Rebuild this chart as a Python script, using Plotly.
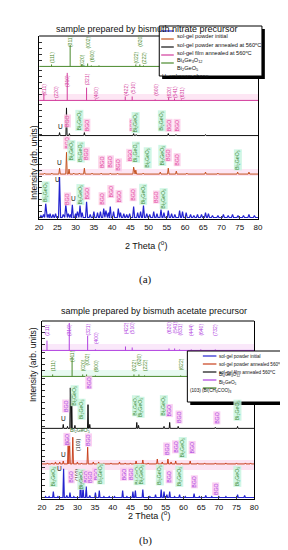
import plotly.graph_objects as go

W, H = 288, 550
FONT = "Liberation Sans, Arial, sans-serif"

# ---------------- DATA (a) : bismuth nitrate precursor ----------------
# peaks: (2theta, intensity in arb. units)
a_blue_peaks = [
    (20.5, 2), (21.2, 3), (21.8, 14), (22.5, 3), (23.0, 4), (23.8, 3), (24.5, 4),
    (25.6, 41), (26.6, 3), (27.3, 13), (28.0, 4), (28.6, 3), (29.1, 13), (30.0, 4),
    (30.5, 6), (31.2, 12), (31.8, 5), (33.0, 16), (34.0, 3), (35.0, 6), (36.0, 5),
    (36.8, 6), (37.7, 9), (38.3, 7), (39.0, 5), (39.5, 11), (40.4, 6), (41.7, 9),
    (42.3, 5), (43.2, 4), (44.0, 3), (44.8, 4), (45.9, 11), (47.0, 5), (47.8, 6),
    (48.6, 12), (49.5, 4), (50.3, 3), (51.4, 6), (52.3, 4), (53.4, 8), (54.2, 5),
    (55.4, 7), (56.3, 4), (57.2, 3), (58.5, 7), (59.3, 6), (60.3, 5), (61.5, 3),
    (62.4, 2), (63.4, 3), (64.5, 3), (65.6, 5), (66.4, 4), (67.5, 2), (69.0, 2),
    (70.5, 3), (71.8, 2), (73.0, 3), (74.5, 2), (76.0, 2), (77.5, 3), (79.0, 2),
]
a_red_peaks = [
    (21.5, 1), (23.5, 1), (25.6, 6), (27.5, 22), (28.2, 5), (29.5, 1), (31.0, 1),
    (32.4, 6), (34.5, 1), (37.0, 1), (39.5, 1), (41.5, 1), (45.9, 7), (46.5, 4),
    (48.5, 1), (53.2, 2), (55.4, 6), (57.6, 3), (60.5, 1), (65.6, 2), (69.0, 1),
    (74.4, 2), (77.5, 2),
]
a_black_peaks = [
    (25.6, 3), (27.5, 28), (28.3, 2), (32.4, 3), (45.9, 2), (46.6, 1), (55.4, 2),
    (57.5, 1), (65.6, 1),
]
a_bgo_pos = [21.3, 24.5, 27.7, 33.0, 35.4, 43.6, 45.5, 51.8, 55.5, 57.1, 59.0]
a_bgo_int = [8, 1, 28, 13, 1, 4, 4, 1, 3, 2, 1]
a_bgo_hkl = ["(211)", "(220)", "(310)", "(321)", "(400)", "(422)", "(510)",
             "(600)", "(620)", "(541)", "(631)"]
a_bgo_lbl = [11, 8, 20, 21, 8, 11, 13, 11, 8, 8, 8]
a_b2g_pos = [23.4, 28.5, 31.7, 33.3, 34.3, 36.4, 46.5, 47.6, 48.6]
a_b2g_int = [2, 22, 2, 3, 1, 1, 2, 2, 1]
a_b2g_hkl = ["(111)", "(311)", "(020)", "(002)", "(600)", "", "(022)", "(620)", "(222)"]
a_b2g_lbl = [9, 26, 6, 24, 11, 0, 9, 26, 9]

# phase labels (2theta, level, phase) ; phase: B = BGO, G = Bi2GeO5, U = unknown
a_labels = [
    (25.8, 92, "U"), (27.7, 98, "B"), (31.1, 98, "G"), (33.0, 93, "B"), (45.5, 94, "B"),
    (46.5, 96, "G"), (53.7, 98, "G"), (55.5, 93, "B"), (57.7, 93, "B"),
    (25.6, 56, "U"), (27.7, 76, "B"), (28.8, 68, "G"), (31.4, 66, "G"), (33.0, 64, "B"),
    (37.2, 56, "B"), (39.6, 56, "B"), (41.8, 53, "B"), (44.9, 63, "B"), (46.5, 66, "G"),
    (49.7, 61, "G"), (53.7, 63, "G"), (55.5, 63, "B"), (57.9, 59, "B"), (74.4, 58, "G"),
    (21.9, 26, "G"), (25.0, 39, "U"), (27.7, 19, "B"), (29.3, 19, "U"), (31.4, 23, "G"),
    (33.0, 24, "B"), (37.2, 19, "B"), (39.6, 26, "B"), (41.8, 21, "B"), (45.7, 23, "B"),
    (48.6, 24, "G"), (52.1, 21, "B"), (54.2, 19, "G"),
]

# ---------------- DATA (b) : bismuth acetate precursor ----------------
b_blue_peaks = [
    (21.0, 1), (22.0, 1), (23.2, 6), (24.5, 1), (26.1, 29), (27.0, 2), (27.9, 5),
    (29.0, 1), (30.9, 24), (31.6, 11), (32.5, 11), (33.5, 2), (35.1, 5), (36.2, 7),
    (37.5, 1), (39.0, 1), (40.5, 1), (42.8, 7), (44.0, 1), (45.7, 6), (46.4, 7),
    (48.5, 8), (50.5, 1), (52.1, 3), (53.7, 8), (54.5, 6), (55.3, 3), (56.1, 6),
    (57.5, 1), (58.9, 3), (60.5, 1), (63.0, 4), (64.5, 1), (66.3, 2), (68.0, 1),
    (70.0, 1), (72.0, 1), (75.3, 3), (77.3, 2),
]
b_red_peaks = [
    (21.5, 1), (22.8, 1), (23.8, 2), (25.0, 2), (26.0, 3), (27.4, 25), (27.8, 22),
    (28.7, 27), (30.0, 2), (31.2, 1), (32.9, 17), (34.5, 2), (36.0, 2), (37.5, 1),
    (39.5, 1), (41.9, 2), (43.5, 1), (45.0, 1), (46.6, 3), (48.5, 4), (50.0, 1),
    (52.6, 5), (54.0, 2), (55.6, 5), (56.5, 2), (57.8, 3), (59.5, 1), (61.9, 3),
    (64.0, 1), (66.0, 1), (69.0, 1), (72.0, 1), (75.0, 1), (77.5, 1), (79.0, 1),
]
b_black_peaks = [
    (26.0, 4), (27.2, 2), (28.0, 41), (28.4, 35), (29.3, 3), (33.0, 24), (33.5, 4),
    (46.8, 6), (47.3, 3), (54.5, 2), (56.1, 6), (58.5, 2), (69.0, 1), (75.3, 2),
]
b_bgo_pos = [21.4, 27.7, 32.9, 35.1, 43.6, 45.5, 55.9, 57.5, 58.9, 62.2, 64.9, 69.0]
b_bgo_int = [10, 28, 15, 1, 4, 3, 2, 2, 1, 1, 1, 1]
b_bgo_hkl = ["(211)", "(310)", "(321)", "(400)", "(422)", "(510)", "(620)", "(541)",
             "(631)", "(444)", "(640)", "(732)"]
b_bgo_lbl = [21, 21, 21, 13, 23, 23, 23, 23, 21, 21, 21, 21]
b_b2g_pos = [23.0, 28.5, 31.5, 32.6, 35.1, 46.0, 47.4, 49.0, 59.2]
b_b2g_int = [2, 20, 2, 2, 1, 2, 2, 1, 1]
b_b2g_hkl = ["(111)", "(311)", "(020)", "(002)", "(600)", "(022)", "(620)", "(222)", "(622)"]
b_b2g_lbl = [11, 21, 11, 17, 11, 11, 17, 11, 12]

b_labels = [
    (26.6, 93, "B"), (29.3, 103, "G"), (31.2, 89, "G"), (33.2, 116, "B"), (26.0, 80, "U"),
    (46.6, 93, "G"), (47.9, 91, "G"), (54.5, 93, "G"), (55.9, 88, "B"), (58.6, 81, "B"),
    (69.3, 81, "B"), (75.3, 88, "G"),
    (26.0, 44, "U"), (27.1, 59, "B"), (30.1, 53, "A"), (33.2, 58, "B"), (55.3, 49, "B"),
    (57.8, 51, "B"), (59.7, 51, "G"), (62.5, 51, "B"),
    (23.3, 21, "G"), (24.9, 29, "U"), (28.2, 21, "B"), (29.9, 23, "A"), (31.2, 18, "G"),
    (32.4, 21, "B"), (33.6, 21, "B"), (35.1, 24, "B"), (36.7, 24, "G"), (43.0, 24, "B"),
    (45.2, 24, "B"), (47.1, 23, "G"), (48.2, 23, "G"), (53.4, 23, "G"), (55.9, 21, "B"),
    (58.9, 21, "G"), (63.0, 16, "B"), (69.0, 9, "B"), (75.3, 21, "G"),
]
b_horiz_label = (30.7, 68, "Bi<sub>2</sub>GeO<sub>5</sub>")

XTICKS = [20, 25, 30, 35, 40, 45, 50, 55, 60, 65, 70, 75, 80]

# ---------------- styles ----------------
C_BLUE = "#2323cf"
C_RED_A = "#c4521f"
C_RED_B = "#c8401c"
C_BLACK = "#111111"
C_PINK = "#d23c9c"
C_PURPLE = "#b040e0"
C_GREEN = "#4a8a2c"


def px(x):
    return x / W


def py(y):
    return 1 - y / H


def spectrum(peaks, base, w):
    xs, ys = [20], [base]
    for p, h in sorted(peaks):
        xs += [p - w, p, p + w]
        ys += [base, base + h, base]
    xs.append(80)
    ys.append(base)
    return xs, ys


def sticks(pos, inten):
    xs, ys = [20, 80], [0, 0]
    for p, h in zip(pos, inten):
        xs += [None, p, p]
        ys += [None, 0, h]
    return xs, ys


fig = go.Figure()
annots = []
shapes = []


def add_line(xs, ys, color, xa, ya, width=1.0):
    fig.add_trace(go.Scatter(x=xs, y=ys, mode="lines", xaxis=xa, yaxis=ya,
                             line=dict(color=color, width=width), hoverinfo="skip",
                             showlegend=False))


# faint highlight bands seen in the reference scan
for (x0, x1, y0, y1, c) in [(28, 254, 86, 93, "rgba(250,200,230,0.45)"),
                            (28, 254, 161, 168, "rgba(250,200,230,0.45)"),
                            (31, 250, 452, 462, "rgba(250,200,230,0.5)"),
                            (31, 250, 336, 343, "rgba(245,205,245,0.45)"),
                            (31, 250, 362, 369, "rgba(205,245,225,0.45)")]:
    shapes.append(dict(type="rect", xref="paper", yref="paper", x0=px(x0), x1=px(x1),
                       y0=py(y1), y1=py(y0), fillcolor=c, line=dict(width=0), layer="below"))

# panel (a)
for peaks, base, w, col, lw in [(a_blue_peaks, 0, 0.28, C_BLUE, 1.2),
                                 (a_red_peaks, 44, 0.2, C_RED_A, 1.0),
                                 (a_black_peaks, 83, 0.16, C_BLACK, 1.0)]:
    xs, ys = spectrum(peaks, base, w)
    add_line(xs, ys, col, "x", "y", lw)
xs, ys = sticks(a_bgo_pos, a_bgo_int)
add_line(xs, ys, C_PINK, "x", "y2", 1.0)
xs, ys = sticks(a_b2g_pos, a_b2g_int)
add_line(xs, ys, C_GREEN, "x", "y3", 1.0)

# panel (b)
for peaks, base, w, col, lw in [(b_blue_peaks, 0, 0.2, C_BLUE, 1.2),
                                 (b_red_peaks, 34, 0.18, C_RED_B, 1.0),
                                 (b_black_peaks, 70, 0.14, C_BLACK, 1.0)]:
    xs, ys = spectrum(peaks, base, w)
    add_line(xs, ys, col, "x2", "y4", lw)
xs, ys = sticks(b_b2g_pos, b_b2g_int)
add_line(xs, ys, C_GREEN, "x2", "y5", 1.0)
xs, ys = sticks(b_bgo_pos, b_bgo_int)
add_line(xs, ys, C_PURPLE, "x2", "y6", 1.0)


def phase_labels(labels, xr, yr, bgo_col, bgo_bg):
    for x, y, ph in labels:
        if ph == "U":
            annots.append(dict(x=x, y=y, xref=xr, yref=yr, text="U", showarrow=False,
                               font=dict(size=6.5, color="#111", family=FONT)))
            continue
        if ph == "B":
            t, col, bg = "BGO", bgo_col, bgo_bg
        elif ph == "G":
            t, col, bg = "Bi<sub>2</sub>GeO<sub>5</sub>", "#3b8a34", "rgba(200,245,225,0.85)"
        else:
            t, col, bg = "(103)", "#222", "rgba(255,255,255,0)"
        annots.append(dict(x=x, y=y, xref=xr, yref=yr, text=t, textangle=-90,
                           showarrow=False, bgcolor=bg, borderpad=0,
                           font=dict(size=5.2, color=col, family=FONT)))


phase_labels(a_labels, "x", "y", "#e0409a", "rgba(252,205,232,0.85)")
phase_labels(b_labels, "x2", "y4", "#a43ee0", "rgba(250,200,240,0.85)")
annots.append(dict(x=b_horiz_label[0], y=b_horiz_label[1], xref="x2", yref="y4",
                   text=b_horiz_label[2], showarrow=False,
                   font=dict(size=5.2, color="#2f6e2a", family=FONT)))


def hkl_labels(pos, lbl, hkl, xr, yr, col):
    for p, l, t in zip(pos, lbl, hkl):
        if not t:
            continue
        annots.append(dict(x=p, y=l, xref=xr, yref=yr, text=t, textangle=-90,
                           showarrow=False, font=dict(size=5, color=col, family=FONT)))


hkl_labels(a_bgo_pos, a_bgo_lbl, a_bgo_hkl, "x", "y2", C_PINK)
hkl_labels(a_b2g_pos, a_b2g_lbl, a_b2g_hkl, "x", "y3", C_GREEN)
hkl_labels(b_bgo_pos, b_bgo_lbl, b_bgo_hkl, "x2", "y6", C_PURPLE)
hkl_labels(b_b2g_pos, b_b2g_lbl, b_b2g_hkl, "x2", "y5", C_GREEN)


def legend(x0, y0, x1, y1, rows, fs, line_x0, line_x1, text_x, rh):
    shapes.append(dict(type="rect", xref="paper", yref="paper", x0=px(x0 + 3), x1=px(x1 + 3),
                       y0=py(y0 + 3), y1=py(y1 + 3), fillcolor="black", line=dict(width=0)))
    shapes.append(dict(type="rect", xref="paper", yref="paper", x0=px(x0), x1=px(x1),
                       y0=py(y0), y1=py(y1), fillcolor="white", line=dict(color="black", width=1)))
    for i, (col, txt) in enumerate(rows):
        yy = y0 + 5 + i * rh
        if col:
            shapes.append(dict(type="line", xref="paper", yref="paper", x0=px(line_x0), x1=px(line_x1),
                               y0=py(yy), y1=py(yy), line=dict(color=col, width=1.2)))
            annots.append(dict(x=px(text_x), y=py(yy), xref="paper", yref="paper", text=txt,
                               xanchor="left", showarrow=False,
                               font=dict(size=fs, color="#111", family=FONT)))
        else:
            annots.append(dict(x=px(x0 + 1), y=py(yy), xref="paper", yref="paper", text=txt,
                               xanchor="left", showarrow=False,
                               font=dict(size=fs, color="#111", family=FONT)))


legend(152, 18, 258, 68, [
    (C_BLUE, "sol-gel powder initial"),
    (C_RED_A, "sol-gel powder annealed at 560<sup>o</sup>C"),
    (C_BLACK, "sol-gel film annealed at 560<sup>o</sup>C"),
    (C_PINK, "Bi<sub>4</sub>Ge<sub>3</sub>O<sub>12</sub>"),
    (C_GREEN, "Bi<sub>2</sub>GeO<sub>5</sub>"),
    (None, "U- unknown phase"),
], 5.6, 154, 167, 168, 8)

legend(181, 343, 279, 394, [
    (C_BLUE, "sol-gel powder initial"),
    (C_RED_B, "sol-gel powder annealed 560<sup>o</sup>C"),
    (C_BLACK, "sol-gel film annealed 560<sup>o</sup>C"),
    (C_PURPLE, "Bi<sub>4</sub>Ge<sub>3</sub>O<sub>12</sub>"),
    (C_GREEN, "Bi<sub>2</sub>GeO<sub>5</sub>"),
    (None, "(103) (Bi(CH<sub>3</sub>COO)<sub>3</sub>"),
], 4.6, 197, 211, 212, 8)

# top borders of panels
shapes.append(dict(type="line", xref="paper", yref="paper", x0=px(28), x1=px(254),
                   y0=py(28), y1=py(28), line=dict(color="black", width=1), layer="below"))
shapes.append(dict(type="line", xref="paper", yref="paper", x0=px(31), x1=px(250),
                   y0=py(313), y1=py(313), line=dict(color="black", width=1), layer="below"))

# texts
def ptext(x, y, t, size, family=FONT, angle=0):
    annots.append(dict(x=px(x), y=py(y), xref="paper", yref="paper", text=t, showarrow=False,
                       textangle=angle, font=dict(size=size, color="#111", family=family)))


ptext(139, 14, "sample prepared by bismuth nitrate precursor", 9)
ptext(147, 303, "sample prepared by bismuth acetate precursor", 9)
ptext(138, 237, "2 Theta (<sup>o</sup>)", 9)
ptext(141, 515, "2 Theta (<sup>o</sup>)", 9)
ptext(15, 115, "Intensity (arb. units)", 8.5, angle=-90)
ptext(14, 396, "Intensity (arb. units)", 8.5, angle=-90)
ptext(138, 271, "(a)", 11, family="Liberation Serif, Times New Roman, serif")
ptext(138, 541, "(b)", 11, family="Liberation Serif, Times New Roman, serif")

xax = dict(range=[20, 80], tickvals=XTICKS, ticks="inside", ticklen=3, showline=True,
           linecolor="black", linewidth=1, showgrid=False, zeroline=False,
           tickfont=dict(size=8, family=FONT, color="#111"))
yax = dict(showticklabels=False, ticks="inside", ticklen=3, showline=True, mirror=True,
           linecolor="black", linewidth=1, showgrid=False, zeroline=False, tickcolor="#333")

fig.update_layout(
    width=W, height=H, margin=dict(l=0, r=0, t=0, b=0),
    paper_bgcolor="white", plot_bgcolor="rgba(0,0,0,0)", showlegend=False,
    xaxis=dict(domain=[px(28), px(254)], anchor="y", **xax),
    xaxis2=dict(domain=[px(31), px(250)], anchor="y4", **xax),
    yaxis=dict(domain=[py(211), py(93)], anchor="x", range=[-1.5, 118], dtick=6, **yax),
    yaxis2=dict(domain=[py(93), py(59)], anchor="x", range=[-0.6, 34], dtick=6, **yax),
    yaxis3=dict(domain=[py(59), py(28)], anchor="x", range=[-0.6, 31], dtick=6, **yax),
    yaxis4=dict(domain=[py(491), py(369)], anchor="x2", range=[-1.5, 122], dtick=6, **yax),
    yaxis5=dict(domain=[py(369), py(343)], anchor="x2", range=[-0.6, 26], dtick=6, **yax),
    yaxis6=dict(domain=[py(343), py(313)], anchor="x2", range=[-0.6, 30], dtick=6, **yax),
    annotations=annots, shapes=shapes,
)

fig.write_html("out.html")
